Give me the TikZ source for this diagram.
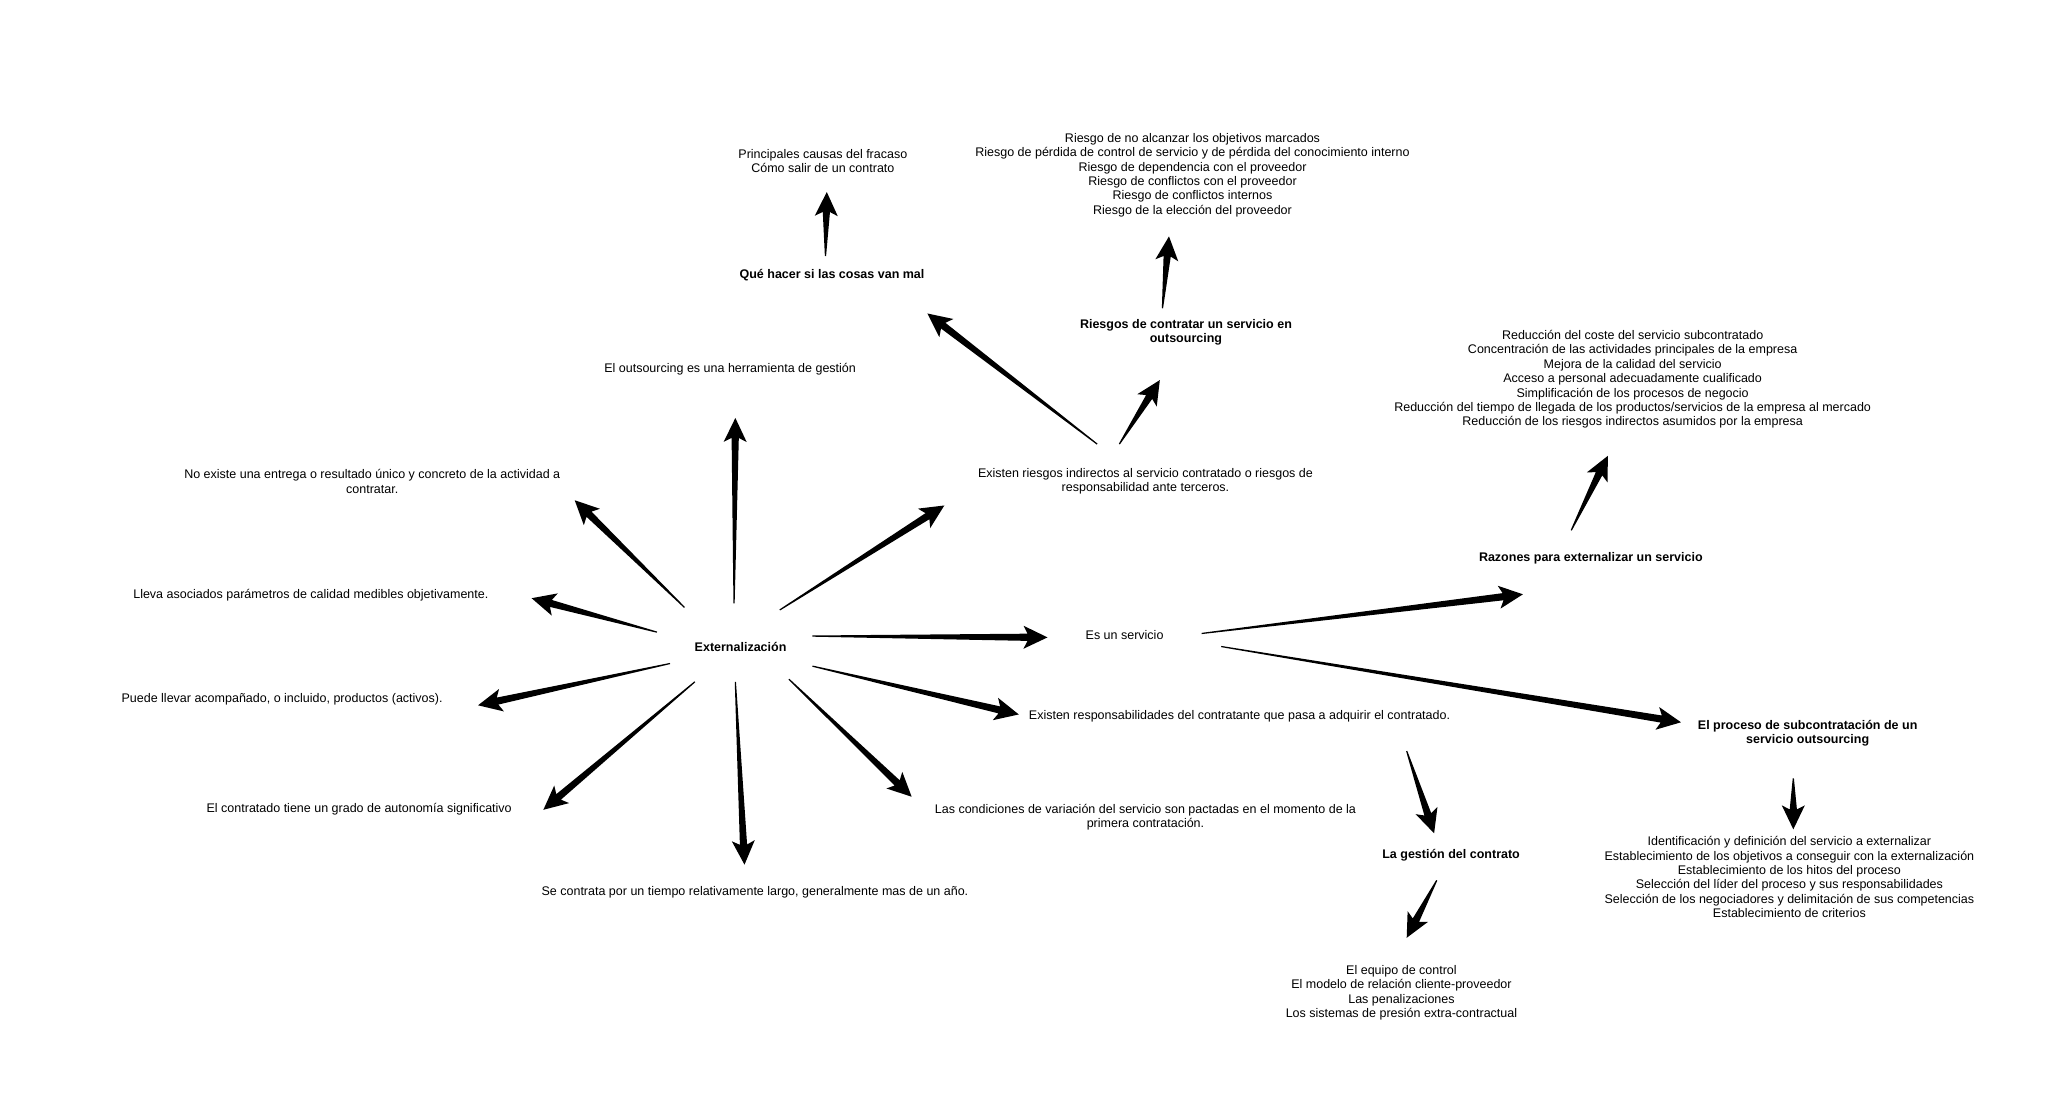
\documentclass[tikz,border=0pt]{standalone}
\usepackage{fontspec}
\setmainfont{Liberation Sans}
\usetikzlibrary{calc}
\tikzset{
  txt/.style={align=center, inner sep=0pt, font=\fontsize{12.5}{14.4}\selectfont},
  hdr/.style={align=center, inner sep=0pt, font=\fontsize{12.5}{14.4}\selectfont\bfseries},
}
% tapered hand-drawn arrow: #1 tail coordinate, #2 tip coordinate
\newcommand\tarrow[2]{%
  \fill let \p1=(#1), \p2=(#2), \n1={atan2(\y2-\y1,\x2-\x1)} in
    ($(\p1)+(\n1+90:0.6pt)$)
    -- ($(\p2)+(\n1+180:20pt)+(\n1+90:3.6pt)$)
    -- ($(\p2)+(\n1+180:24pt)+(\n1+90:11.5pt)$)
    -- (\p2)
    -- ($(\p2)+(\n1+180:24pt)+(\n1-90:11.5pt)$)
    -- ($(\p2)+(\n1+180:20pt)+(\n1-90:3.6pt)$)
    -- ($(\p1)+(\n1-90:0.6pt)$) -- cycle;}
\begin{document}
\begin{tikzpicture}[x=1.306pt,y=-1.306pt]
\useasboundingbox (0,0) rectangle (1568,848);
\fill[white] (0,0) rectangle (1568,848);

% ---- nodes ----
\node[hdr] (ext) at (567,495.5) {Externalización};
\node[txt] (herr) at (559,282.5) {El outsourcing es una herramienta de gestión};
\node[txt] (noex) at (285,368.5) {No existe una entrega o resultado único y concreto de la actividad a\\contratar.};
\node[txt] (lleva) at (238,455.5) {Lleva asociados parámetros de calidad medibles objetivamente.};
\node[txt] (puede) at (216,535.5) {Puede llevar acompañado, o incluido, productos (activos).};
\node[txt] (auto) at (275,619.5) {El contratado tiene un grado de autonomía significativo};
\node[txt] (largo) at (578,683.5) {Se contrata por un tiempo relativamente largo, generalmente mas de un año.};
\node[txt] (cond) at (877,625.5) {Las condiciones de variación del servicio son pactadas en el momento de la\\primera contratación.};
\node[txt] (resp) at (949,548.5) {Existen responsabilidades del contratante que pasa a adquirir el contratado.};
\node[txt] (serv) at (861,486.5) {Es un servicio};
\node[txt] (indir) at (877,368.5) {Existen riesgos indirectos al servicio contratado o riesgos de\\responsabilidad ante terceros.};
\node[hdr] (que) at (637,210.5) {Qué hacer si las cosas van mal};
\node[txt] (causas) at (630,123.5) {Principales causas del fracaso\\Cómo salir de un contrato};
\node[hdr] (riesgos) at (908,254.5) {Riesgos de contratar un servicio en\\outsourcing};
\node[txt] (rlist) at (913,134) {Riesgo de no alcanzar los objetivos marcados\\Riesgo de pérdida de control de servicio y de pérdida del conocimiento interno\\Riesgo de dependencia con el proveedor\\Riesgo de conflictos con el proveedor\\Riesgo de conflictos internos\\Riesgo de la elección del proveedor};
\node[hdr] (razones) at (1218,427.5) {Razones para externalizar un servicio};
\node[txt] (rzlist) at (1250,290.5) {Reducción del coste del servicio subcontratado\\Concentración de las actividades principales de la empresa\\Mejora de la calidad del servicio\\Acceso a personal adecuadamente cualificado\\Simplificación de los procesos de negocio\\Reducción del tiempo de llegada de los productos/servicios de la empresa al mercado\\Reducción de los riesgos indirectos asumidos por la empresa};
\node[hdr] (proc) at (1384,561.5) {El proceso de subcontratación de un\\servicio outsourcing};
\node[txt] (plist) at (1370,671.5) {Identificación y definición del servicio a externalizar\\Establecimiento de los objetivos a conseguir con la externalización\\Establecimiento de los hitos del proceso\\Selección del líder del proceso y sus responsabilidades\\Selección de los negociadores y delimitación de sus competencias\\Establecimiento de criterios};
\node[hdr] (gest) at (1111,654.5) {La gestión del contrato};
\node[txt] (glist) at (1073,760) {El equipo de control\\El modelo de relación cliente-proveedor\\Las penalizaciones\\Los sistemas de presión extra-contractual};

% ---- connector ends ----
\coordinate (e1) at (562,462);  \coordinate (t1) at (563,320);
\coordinate (e2) at (524,465);  \coordinate (t2) at (440,383);
\coordinate (e3) at (503,484);  \coordinate (t3) at (407,458);
\coordinate (e4) at (513,508);  \coordinate (t4) at (366,540);
\coordinate (e5) at (532,522);  \coordinate (t5) at (416,620);
\coordinate (e6) at (563,522);  \coordinate (t6) at (570,662);
\coordinate (e7) at (604,520);  \coordinate (t7) at (698,610);
\coordinate (e8) at (622,510);  \coordinate (t8) at (780,547);
\coordinate (e9) at (622,487);  \coordinate (t9) at (802,488);
\coordinate (e10) at (597,467); \coordinate (t10) at (723,387);
\coordinate (i1) at (840,340);  \coordinate (ti1) at (710,240);
\coordinate (i2) at (857,340);  \coordinate (ti2) at (888,291);
\coordinate (q1) at (632,196);  \coordinate (tq1) at (633,147);
\coordinate (r1) at (890,236);  \coordinate (tr1) at (895,181);
\coordinate (s1) at (920,485);  \coordinate (ts1) at (1166,455);
\coordinate (s2) at (935,495);  \coordinate (ts2) at (1287,553);
\coordinate (z1) at (1203,406); \coordinate (tz1) at (1231,349);
\coordinate (p1) at (1373,596); \coordinate (tp1) at (1373,635);
\coordinate (c1) at (1077,575); \coordinate (tc1) at (1098,638);
\coordinate (g1) at (1100,674); \coordinate (tg1) at (1077,718);

% ---- arrows ----
\tarrow{e1}{t1}
\tarrow{e2}{t2}
\tarrow{e3}{t3}
\tarrow{e4}{t4}
\tarrow{e5}{t5}
\tarrow{e6}{t6}
\tarrow{e7}{t7}
\tarrow{e8}{t8}
\tarrow{e9}{t9}
\tarrow{e10}{t10}
\tarrow{i1}{ti1}
\tarrow{i2}{ti2}
\tarrow{q1}{tq1}
\tarrow{r1}{tr1}
\tarrow{s1}{ts1}
\tarrow{s2}{ts2}
\tarrow{z1}{tz1}
\tarrow{p1}{tp1}
\tarrow{c1}{tc1}
\tarrow{g1}{tg1}
\end{tikzpicture}
\end{document}
